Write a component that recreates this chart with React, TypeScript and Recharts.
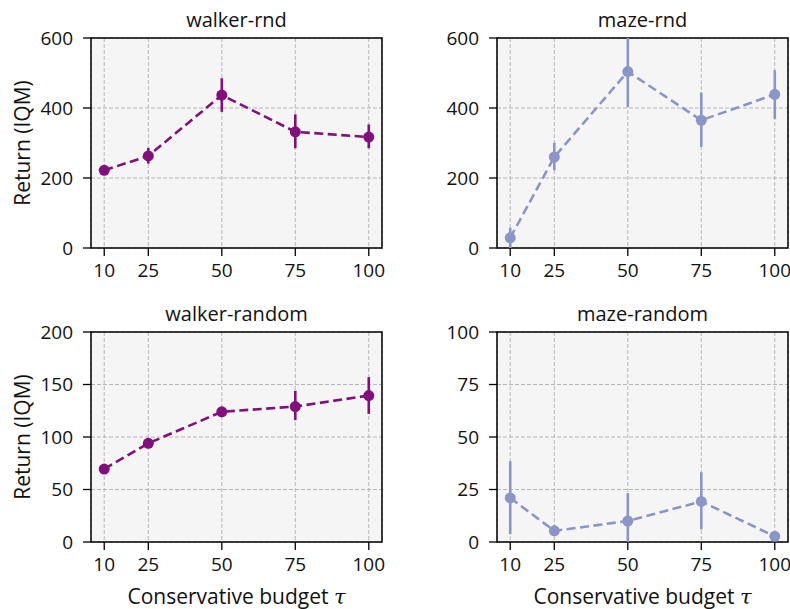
import React from "react";
import { LineChart, Line, XAxis, YAxis, CartesianGrid, ErrorBar, ReferenceArea } from "recharts";

const budgets = [10, 25, 50, 75, 100];
const xTicks = [10, 25, 50, 75, 100];

const walkerRndMean = [222, 263, 437, 332, 317];
const walkerRndLow = [212, 241, 389, 285, 285];
const walkerRndHigh = [232, 286, 485, 382, 353];

const mazeRndMean = [29, 260, 504, 365, 439];
const mazeRndLow = [0, 222, 403, 289, 369];
const mazeRndHigh = [58, 301, 600, 444, 508];

const walkerRandomMean = [69.5, 94, 124, 129, 139.5];
const walkerRandomLow = [66, 91, 119, 116, 122];
const walkerRandomHigh = [73, 97, 128, 144, 157];

const mazeRandomMean = [21, 5.3, 10, 19.3, 2.7];
const mazeRandomLow = [3.7, 3, 0, 6, 1];
const mazeRandomHigh = [38.5, 8, 23.3, 33.2, 4.5];

const ticks600 = [0, 200, 400, 600];
const ticks200 = [0, 50, 100, 150, 200];
const ticks100 = [0, 25, 50, 75, 100];

const WALKER = "#810f7c";
const MAZE = "#8c96c6";
const FONT = "'Open Sans', sans-serif";

function build(mean: number[], low: number[], high: number[]) {
  return budgets.map((b, i) => ({
    x: b,
    y: mean[i],
    err: [mean[i] - low[i], high[i] - mean[i]],
  }));
}

type PanelProps = {
  left: number;
  top: number;
  title: string;
  data: { x: number; y: number; err: number[] }[];
  color: string;
  yTicks: number[];
  yLabel?: boolean;
  xLabel?: boolean;
};

const FRAME_W = 291;
const FRAME_H = 210;
const Y_W = 60;
const M_TOP = 18;
const M_RIGHT = 22;
const X_H = 40;

function Panel({ left, top, title, data, color, yTicks, yLabel, xLabel }: PanelProps) {
  const yMax = yTicks[yTicks.length - 1];
  const tickStyle = { fontSize: 19, fill: "#111", fontFamily: FONT };
  return (
    <>
      <div
        style={{
          position: "absolute",
          left,
          top: top - 32,
          width: FRAME_W,
          textAlign: "center",
          fontSize: 20,
          fontFamily: FONT,
          color: "#111",
        }}
      >
        {title}
      </div>
      {yLabel && (
        <div
          style={{
            position: "absolute",
            left: 22 - FRAME_H / 2,
            top: top + FRAME_H / 2 - 14,
            width: FRAME_H,
            textAlign: "center",
            transform: "rotate(-90deg)",
            fontSize: 21,
            fontFamily: FONT,
            color: "#111",
            lineHeight: "28px",
          }}
        >
          Return (IQM)
        </div>
      )}
      {xLabel && (
        <div
          style={{
            position: "absolute",
            left,
            top: top + FRAME_H + 40,
            width: FRAME_W,
            textAlign: "center",
            fontSize: 21,
            fontFamily: FONT,
            color: "#111",
          }}
        >
          Conservative budget <i style={{ fontFamily: "'DejaVu Serif', serif" }}>τ</i>
        </div>
      )}
      <div style={{ position: "absolute", left: left - Y_W, top: top - M_TOP }}>
        <LineChart
          width={Y_W + FRAME_W + M_RIGHT}
          height={M_TOP + FRAME_H + X_H}
          data={data}
          margin={{ top: M_TOP, right: M_RIGHT, left: 0, bottom: 0 }}
        >
          <CartesianGrid fill="#f5f5f5" stroke="#b0b0b0" strokeDasharray="4 2" strokeWidth={0.9} />
          <XAxis
            dataKey="x"
            type="number"
            domain={[5.5, 104.5]}
            ticks={xTicks}
            allowDataOverflow
            axisLine={false}
            tickLine={{ stroke: "#000", strokeWidth: 1.3 }}
            tickSize={8}
            tickMargin={8}
            tick={tickStyle}
            height={X_H}
            interval={0}
          />
          <YAxis
            type="number"
            domain={[0, yMax]}
            ticks={yTicks}
            allowDataOverflow
            axisLine={false}
            tickLine={{ stroke: "#000", strokeWidth: 1.3 }}
            tickSize={8}
            tickMargin={10}
            tick={tickStyle}
            width={Y_W}
            interval={0}
          />
          <ReferenceArea
            x1={5.5}
            x2={104.5}
            y1={0}
            y2={yMax}
            fill="none"
            stroke="#000"
            strokeWidth={1.5}
            ifOverflow="visible"
          />
          <Line
            dataKey="y"
            stroke={color}
            strokeWidth={2.6}
            strokeDasharray="9 4.5"
            dot={{ r: 5.5, fill: color, stroke: color, strokeWidth: 0 }}
            activeDot={false}
            isAnimationActive={false}
          >
            <ErrorBar dataKey="err" direction="y" width={0} stroke={color} strokeWidth={2.6} isAnimationActive={false} />
          </Line>
        </LineChart>
      </div>
    </>
  );
}

export default function App() {
  return (
    <div style={{ position: "absolute", left: 0, top: 0, width: 790, height: 609, background: "#fff", overflow: "hidden" }}>
      <Panel left={91} top={38} title="walker-rnd" data={build(walkerRndMean, walkerRndLow, walkerRndHigh)} color={WALKER} yTicks={ticks600} yLabel />
      <Panel left={497} top={38} title="maze-rnd" data={build(mazeRndMean, mazeRndLow, mazeRndHigh)} color={MAZE} yTicks={ticks600} />
      <Panel left={91} top={332} title="walker-random" data={build(walkerRandomMean, walkerRandomLow, walkerRandomHigh)} color={WALKER} yTicks={ticks200} yLabel xLabel />
      <Panel left={497} top={332} title="maze-random" data={build(mazeRandomMean, mazeRandomLow, mazeRandomHigh)} color={MAZE} yTicks={ticks100} xLabel />
    </div>
  );
}
